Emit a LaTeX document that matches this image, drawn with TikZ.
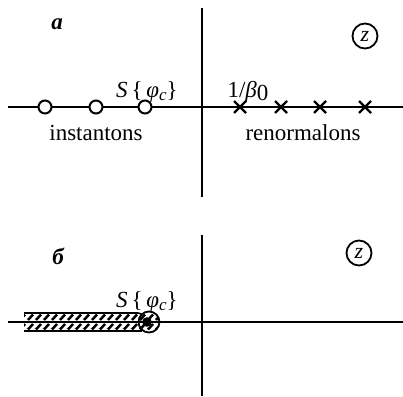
\documentclass[tikz,border=0pt]{standalone}
\usepackage{fontspec}
\setmainfont{Liberation Serif}
\begin{document}
\begin{tikzpicture}[x=1pt,y=-1pt,
  ax/.style={line width=2.2pt},
  lbl/.style={font=\fontsize{23}{25}\selectfont, inner sep=0pt},
  hole/.style={circle, draw, line width=2pt, fill=white, minimum size=13pt, inner sep=0pt},
  hatch/.style={line width=2.5pt},
  cz/.style={circle, draw, line width=1.8pt, minimum size=25pt, inner sep=0pt, font=\fontsize{22}{24}\selectfont\itshape}]
\useasboundingbox (0,0) rectangle (403,396);
% ---- panel a ----
\coordinate (a1) at (8,107);
\coordinate (a2) at (403,107);
\coordinate (v1) at (202,8);
\coordinate (v2) at (202,197);
\draw[ax] (a1) -- (a2);
\draw[ax] (v1) -- (v2);
\node[hole] (c1) at (45,107) {};
\node[hole] (c2) at (96,107) {};
\node[hole] (c3) at (145,107) {};
\foreach \x/\n in {240/x1,281/x2,320/x3,365/x4}{
  \coordinate (\n) at (\x,107);
  \draw[line width=2.2pt] ([shift={(-6,-6)}]\n) -- ([shift={(6,6)}]\n);
  \draw[line width=2.2pt] ([shift={(-6,6)}]\n) -- ([shift={(6,-6)}]\n);
}
\node[lbl, font=\fontsize{23}{25}\selectfont\bfseries\itshape] (la) at (57,24) {a};
\node[cz] (za) at (365,36) {z};
\node[lbl, anchor=base] (s1) at (147,97) {\textit{S}\,\{\,\textit{φ}\raisebox{-0.35ex}{\fontsize{17}{19}\selectfont\textit{c}}\}};
\node[lbl, anchor=base] (b0) at (248,97) {1/\textit{β}\raisebox{-0.35ex}{0}};
\node[lbl, anchor=base] (ins) at (96,140) {instantons};
\node[lbl, anchor=base] (ren) at (303,140) {renormalons};
% ---- panel b ----
\coordinate (b1) at (8,322);
\coordinate (b2) at (403,322);
\coordinate (w1) at (202,235);
\coordinate (w2) at (202,396);
\begin{scope}
  \clip (24,313) rectangle (141,331);
  \foreach \x in {20,28,...,150}{
    \draw[hatch] (\x,320) -- (\x+5,314.5);
    \draw[hatch] (\x,329.5) -- (\x+5,324);
  }
\end{scope}
\begin{scope}
  \clip (149,322) circle (10);
  \foreach \x in {132,140,...,164}{
    \draw[hatch] (\x,320) -- (\x+5,314.5);
    \draw[hatch] (\x,329.5) -- (\x+5,324);
  }
\end{scope}
\draw[line width=1.6pt] (24,313) -- (138,313) to[out=0,in=150] (143,314.5);
\draw[line width=1.6pt] (24,331) -- (142,331);
\draw[ax] (b1) -- (b2);
\draw[ax] (w1) -- (w2);
\node[circle, draw, line width=1.8pt, minimum size=21pt, inner sep=0pt] (sc) at (149,322) {};
\fill (147,322) circle (4.8);
\node[lbl, font=\fontsize{23}{25}\selectfont\bfseries\itshape] (lb) at (58,256) {б};
\node[cz] (zb) at (359,253) {z};
\node[lbl, anchor=base] (s2) at (147,307) {\textit{S}\,\{\,\textit{φ}\raisebox{-0.35ex}{\fontsize{17}{19}\selectfont\textit{c}}\}};
\end{tikzpicture}
\end{document}
